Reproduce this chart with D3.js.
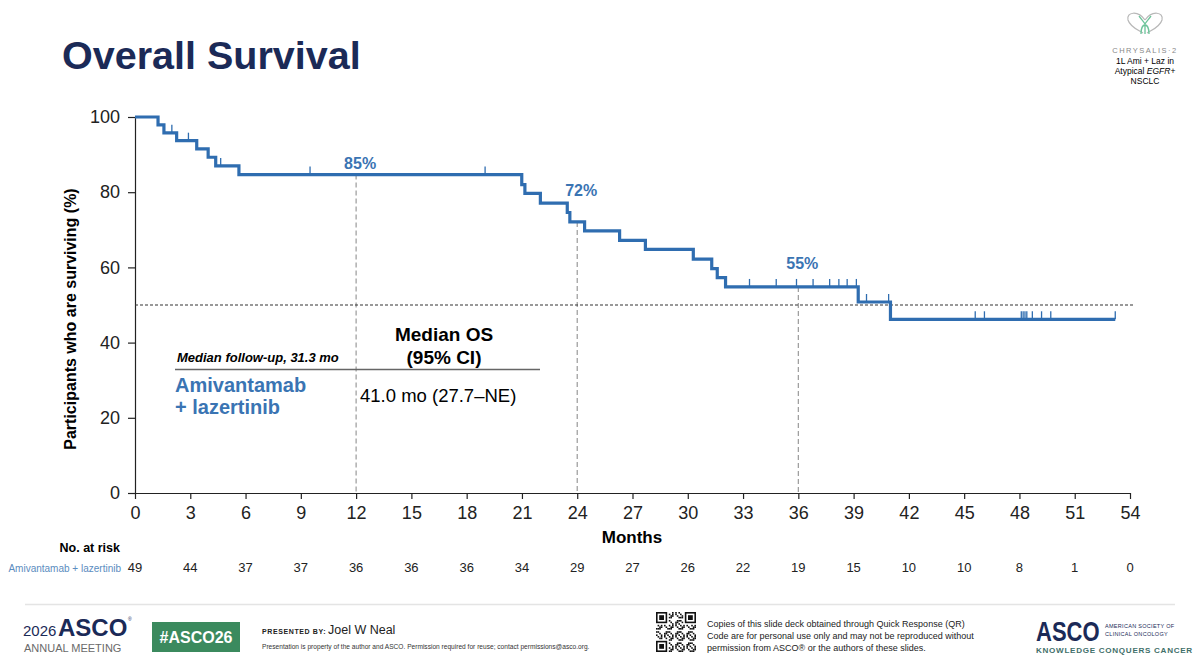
<!DOCTYPE html>
<html>
<head>
<meta charset="utf-8">
<script src="https://cdn.jsdelivr.net/npm/d3@7"></script>
<style>
  body { margin: 0; background: #fff; }
  svg { display: block; }
  text { font-family: "Liberation Sans", Arial, sans-serif; }
</style>
</head>
<body>
<div id="chart"></div>
<script>
	var WIDTH = 1200;
	var HEIGHT = 655;

	// KM steps (months, % surviving after the step)
	var eventMonths = [0, 1.25, 1.57, 2.26, 3.35, 3.97, 4.38, 5.64, 20.99, 21.16, 22.0, 23.46, 23.6, 24.4, 26.3, 27.7, 30.3, 31.3, 31.6, 32.05, 39.25, 41.0];
	var survivalPct = [100, 97.9, 95.8, 93.7, 91.5, 89.3, 87.0, 84.7, 82.0, 79.7, 77.1, 74.6, 72.1, 69.7, 67.2, 64.8, 62.2, 59.7, 57.3, 54.8, 50.8, 46.2];
	var lastMonth = 53.2;
	var censorMonths = [2.0, 2.9, 4.65, 9.5, 19.0, 33.35, 34.8, 35.9, 36.8, 37.7, 38.2, 38.65, 39.15, 39.7, 40.9, 45.6, 46.1, 48.1, 48.2, 48.3, 48.4, 48.7, 49.2, 49.7, 53.2];

	var landmarkMonths = [12, 24, 36];
	var landmarkLabels = ["85%", "72%", "55%"];

	var xTicks = [0, 3, 6, 9, 12, 15, 18, 21, 24, 27, 30, 33, 36, 39, 42, 45, 48, 51, 54];
	var yTicks = [0, 20, 40, 60, 80, 100];
	var atRisk = [49, 44, 37, 37, 36, 36, 36, 34, 29, 27, 26, 22, 19, 15, 10, 10, 8, 1, 0];

	var BLUE = "#2f6db0";
	var TEXTBLUE = "#3a74b3";
	var NAVY = "#1b2a57";

	var svg = d3.select('#chart')
		.append('svg')
		.attr('width', WIDTH)
		.attr('height', HEIGHT);

	var x = d3.scaleLinear().domain([0, 54]).range([135, 1130]);
	var y = d3.scaleLinear().domain([0, 100]).range([493, 117]);

	// survival value at a given month (step function)
	var survAt = function(t){
		var s = survivalPct[0];
		for(var i=0; i<eventMonths.length; i++){
			if(eventMonths[i] <= t) s = survivalPct[i];
		}
		return s;
	}

	// title
	svg.append('text')
		.attr('x', 62).attr('y', 69)
		.style('font-size', '39.5px').style('font-weight', 'bold')
		.style('fill', NAVY)
		.text('Overall Survival');

	// axes
	var xAxis = svg.append('g')
		.attr('transform', 'translate(0,' + y(0) + ')')
		.call(d3.axisBottom(x).tickValues(xTicks).tickSize(6).tickSizeOuter(0).tickPadding(7));
	var yAxis = svg.append('g')
		.attr('transform', 'translate(' + x(0) + ',0)')
		.call(d3.axisLeft(y).tickValues(yTicks).tickSize(7).tickSizeOuter(0).tickPadding(8));
	[xAxis, yAxis].forEach(function(g){
		g.selectAll('path, line').attr('stroke', '#222').attr('stroke-width', 1.2);
		g.selectAll('text').style('font-size', '18px').style('fill', '#222')
			.style('font-family', '"Liberation Sans", Arial, sans-serif');
	});

	svg.append('text')
		.attr('transform', 'translate(76,319) rotate(-90)')
		.attr('text-anchor', 'middle')
		.style('font-size', '16px').style('font-weight', 'bold')
		.text('Participants who are surviving (%)');

	svg.append('text')
		.attr('x', 632).attr('y', 543)
		.attr('text-anchor', 'middle')
		.style('font-size', '17px').style('font-weight', 'bold')
		.text('Months');

	// landmark verticals
	svg.selectAll('line.landmark')
		.data(landmarkMonths)
		.enter().append('line')
		.attr('class', 'landmark')
		.attr('x1', function(d){ return x(d); })
		.attr('x2', function(d){ return x(d); })
		.attr('y1', function(d){ return y(survAt(d)); })
		.attr('y2', y(0))
		.attr('stroke', '#9a9a9a')
		.attr('stroke-width', 1.2)
		.attr('stroke-dasharray', '5,3');

	// 50% reference
	svg.append('line')
		.attr('x1', x(0)).attr('x2', x(54) + 3)
		.attr('y1', y(50)).attr('y2', y(50))
		.attr('stroke', '#333')
		.attr('stroke-width', 1.2)
		.attr('stroke-dasharray', '3,2');

	// curve
	var pts = eventMonths.map(function(t, i){ return [t, survivalPct[i]]; });
	pts.push([lastMonth, survivalPct[survivalPct.length - 1]]);
	var line = d3.line()
		.x(function(d){ return x(d[0]); })
		.y(function(d){ return y(d[1]); })
		.curve(d3.curveStepAfter);
	svg.append('path')
		.datum(pts)
		.attr('d', line)
		.attr('fill', 'none')
		.attr('stroke', BLUE)
		.attr('stroke-width', 3.2);

	// censor marks
	svg.selectAll('line.censor')
		.data(censorMonths)
		.enter().append('line')
		.attr('class', 'censor')
		.attr('x1', function(d){ return x(d); })
		.attr('x2', function(d){ return x(d); })
		.attr('y1', function(d){ return y(survAt(d)); })
		.attr('y2', function(d){ return y(survAt(d)) - 8; })
		.attr('stroke', BLUE)
		.attr('stroke-width', 1.3);

	// landmark labels
	var lift = [6, 26, 18];
	svg.selectAll('text.lm')
		.data(landmarkMonths)
		.enter().append('text')
		.attr('class', 'lm')
		.attr('x', function(d){ return x(d) + 4; })
		.attr('y', function(d, i){ return y(survAt(d)) - lift[i]; })
		.attr('text-anchor', 'middle')
		.style('font-size', '16px').style('font-weight', 'bold')
		.style('fill', TEXTBLUE)
		.text(function(d, i){ return landmarkLabels[i]; });

	// median table
	svg.append('text')
		.attr('x', 177).attr('y', 362)
		.style('font-size', '13px').style('font-weight', 'bold').style('font-style', 'italic')
		.text('Median follow-up, 31.3 mo');
	svg.append('text')
		.attr('x', 444).attr('y', 341).attr('text-anchor', 'middle')
		.style('font-size', '19px').style('font-weight', 'bold')
		.text('Median OS');
	svg.append('text')
		.attr('x', 444).attr('y', 364).attr('text-anchor', 'middle')
		.style('font-size', '19px').style('font-weight', 'bold')
		.text('(95% CI)');
	svg.append('line')
		.attr('x1', 175).attr('x2', 540).attr('y1', 369.5).attr('y2', 369.5)
		.attr('stroke', '#666').attr('stroke-width', 1.5);
	svg.append('text')
		.attr('x', 175).attr('y', 392)
		.style('font-size', '20px').style('font-weight', 'bold').style('fill', TEXTBLUE)
		.text('Amivantamab');
	svg.append('text')
		.attr('x', 175).attr('y', 414)
		.style('font-size', '20px').style('font-weight', 'bold').style('fill', TEXTBLUE)
		.text('+ lazertinib');
	svg.append('text')
		.attr('x', 360).attr('y', 402)
		.style('font-size', '18.5px')
		.text('41.0 mo (27.7\u2013NE)');

	// numbers at risk
	svg.append('text')
		.attr('x', 120).attr('y', 552).attr('text-anchor', 'end')
		.style('font-size', '12.5px').style('font-weight', 'bold')
		.text('No. at risk');
	svg.append('text')
		.attr('x', 121).attr('y', 572).attr('text-anchor', 'end')
		.style('font-size', '10px').style('fill', '#5b8cc0')
		.text('Amivantamab + lazertinib');
	svg.selectAll('text.risk')
		.data(atRisk)
		.enter().append('text')
		.attr('class', 'risk')
		.attr('x', function(d, i){ return x(xTicks[i]); })
		.attr('y', 572)
		.attr('text-anchor', 'middle')
		.style('font-size', '13px').style('fill', '#222')
		.text(function(d){ return d; });

	// top-right study badge
	var badge = svg.append('g');
	badge.append('path')
		.attr('d', 'M1145,20 C1138,10 1126,12 1128,20 C1130,27 1138,30 1143,33')
		.attr('fill', 'none').attr('stroke', '#b8b8b8').attr('stroke-width', 1.2);
	badge.append('path')
		.attr('d', 'M1145,20 C1152,10 1164,12 1162,20 C1160,27 1152,30 1147,33')
		.attr('fill', 'none').attr('stroke', '#b8b8b8').attr('stroke-width', 1.2);
	badge.append('path')
		.attr('d', 'M1139,16 C1142,20 1144,22 1145,24 C1146,22 1148,20 1151,16 M1145,24 L1145,34 M1141,34 C1141,28 1143,25 1145,25 C1147,25 1149,28 1149,34')
		.attr('fill', 'none').attr('stroke', '#6cc49a').attr('stroke-width', 1.3);
	badge.append('text')
		.attr('x', 1145).attr('y', 53).attr('text-anchor', 'middle')
		.style('font-size', '7.5px').style('fill', '#888').style('letter-spacing', '1.5px')
		.text('CHRYSALIS\u00b72');
	badge.append('text')
		.attr('x', 1145).attr('y', 64).attr('text-anchor', 'middle')
		.style('font-size', '8.5px')
		.text('1L Ami + Laz in');
	var t2 = badge.append('text')
		.attr('x', 1145).attr('y', 74).attr('text-anchor', 'middle')
		.style('font-size', '8.5px');
	t2.append('tspan').text('Atypical ');
	t2.append('tspan').style('font-style', 'italic').text('EGFR');
	t2.append('tspan').text('+');
	badge.append('text')
		.attr('x', 1145).attr('y', 84).attr('text-anchor', 'middle')
		.style('font-size', '8.5px')
		.text('NSCLC');

	// footer
	var foot = svg.append('g');
	foot.append('line')
		.attr('x1', 25).attr('x2', 1175).attr('y1', 604.5).attr('y2', 604.5)
		.attr('stroke', '#e4e4e4').attr('stroke-width', 1.5);
	foot.append('text')
		.attr('x', 23).attr('y', 636)
		.style('font-size', '15px').style('fill', NAVY)
		.text('2026');
	foot.append('text')
		.attr('x', 58).attr('y', 636)
		.style('font-size', '24px').style('font-weight', 'bold').style('fill', NAVY)
		.text('ASCO');
	foot.append('text')
		.attr('x', 128).attr('y', 621)
		.style('font-size', '5px').style('fill', NAVY)
		.text('\u00ae');
	foot.append('text')
		.attr('x', 24).attr('y', 652)
		.style('font-size', '11px').style('fill', '#6a6a6a')
		.text('ANNUAL MEETING');
	foot.append('rect')
		.attr('x', 152).attr('y', 622).attr('width', 88).attr('height', 30)
		.attr('fill', '#3b8a5e');
	foot.append('text')
		.attr('x', 196).attr('y', 643).attr('text-anchor', 'middle')
		.style('font-size', '16px').style('font-weight', 'bold').style('fill', '#fff')
		.text('#ASCO26');
	foot.append('text')
		.attr('x', 262).attr('y', 634)
		.style('font-size', '7px').style('font-weight', 'bold').style('fill', '#222').style('letter-spacing', '0.6px')
		.text('PRESENTED BY:');
	foot.append('text')
		.attr('x', 328).attr('y', 634)
		.style('font-size', '12.5px').style('fill', '#222')
		.text('Joel W Neal');
	foot.append('text')
		.attr('x', 262).attr('y', 649)
		.style('font-size', '6.6px').style('fill', '#333')
		.text('Presentation is property of the author and ASCO. Permission required for reuse; contact permissions@asco.org.');

	// QR-like block
	var qr = foot.append('g').attr('transform', 'translate(656,612)');
	var cells = 25, cs = 1.6;
	var finder = function(cx, cy){
		qr.append('rect').attr('x', cx*cs).attr('y', cy*cs).attr('width', 7*cs).attr('height', 7*cs).attr('fill', '#111');
		qr.append('rect').attr('x', (cx+1)*cs).attr('y', (cy+1)*cs).attr('width', 5*cs).attr('height', 5*cs).attr('fill', '#fff');
		qr.append('rect').attr('x', (cx+2)*cs).attr('y', (cy+2)*cs).attr('width', 3*cs).attr('height', 3*cs).attr('fill', '#111');
	}
	for(var r=0; r<cells; r++){
		for(var c=0; c<cells; c++){
			if((r < 8 && c < 8) || (r < 8 && c > 16) || (r > 16 && c < 8)) continue;
			if(((r*31 + c*17 + r*c) % 7) < 3){
				qr.append('rect').attr('x', c*cs).attr('y', r*cs).attr('width', cs).attr('height', cs).attr('fill', '#111');
			}
		}
	}
	finder(0, 0); finder(18, 0); finder(0, 18);

	var qrText = ['Copies of this slide deck obtained through Quick Response (QR)',
		'Code are for personal use only and may not be reproduced without',
		'permission from ASCO\u00ae or the authors of these slides.'];
	foot.selectAll('text.qr')
		.data(qrText)
		.enter().append('text')
		.attr('class', 'qr')
		.attr('x', 707)
		.attr('y', function(d, i){ return 627 + i*12; })
		.style('font-size', '9px').style('fill', '#222')
		.text(function(d){ return d; });

	foot.append('text')
		.attr('transform', 'translate(1036,641) scale(1,1.25)')
		.style('font-size', '22px').style('font-weight', 'bold').style('fill', NAVY)
		.text('ASCO');
	foot.append('text')
		.attr('x', 1105).attr('y', 628)
		.style('font-size', '5.5px').style('fill', NAVY).style('letter-spacing', '0.3px')
		.text('AMERICAN SOCIETY OF');
	foot.append('text')
		.attr('x', 1105).attr('y', 636)
		.style('font-size', '5.5px').style('fill', NAVY).style('letter-spacing', '0.3px')
		.text('CLINICAL ONCOLOGY');
	foot.append('text')
		.attr('x', 1036).attr('y', 653)
		.style('font-size', '8.1px').style('font-weight', 'bold').style('fill', '#3f6f6a').style('letter-spacing', '0.7px')
		.text('KNOWLEDGE CONQUERS CANCER');
</script>
</body>
</html>
